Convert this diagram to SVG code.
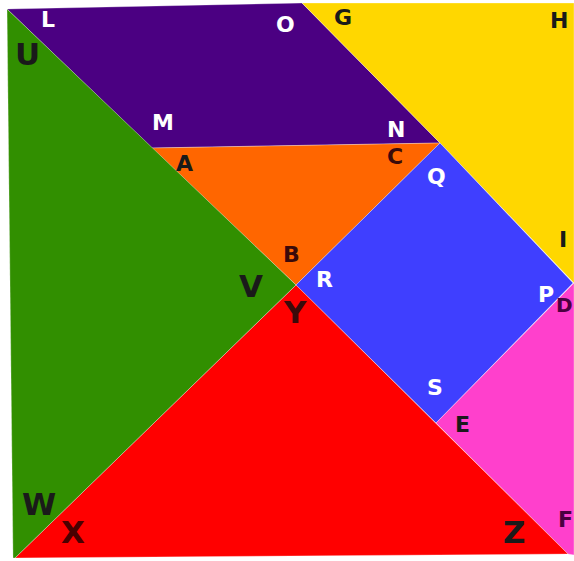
<svg xmlns="http://www.w3.org/2000/svg" width="574" height="561" viewBox="0 0 574 561">
<style>
.p{stroke:#ffffff;stroke-opacity:0.3;stroke-width:1;stroke-linejoin:round}
.s{font-family:"DejaVu Sans","Liberation Sans",sans-serif;font-weight:bold;font-size:22px}
.b{font-family:"DejaVu Sans","Liberation Sans",sans-serif;font-weight:bold;font-size:31px}
.w{fill:#ffffff}
.k{fill:#1a1a1a}
</style>
<rect width="574" height="561" fill="#ffffff"/>
<g id="purple"><polygon class="p" points="7,9 302,3 440,143 152,148" fill="#4b0082"/></g>
<g id="yellow"><polygon class="p" points="302,3 574,3 574,283 440,143" fill="#ffd700"/></g>
<g id="orange"><polygon class="p" points="152,148 440,143 296,285" fill="#ff6600"/></g>
<g id="blue"><polygon class="p" points="440,143 573,283 436,423 296,285" fill="#3f3fff"/></g>
<g id="pink"><polygon class="p" points="574,283 574,555 568,554 436,423" fill="#ff40cc"/></g>
<g id="red"><polygon class="p" points="296,285 568,554 15,558" fill="#ff0000"/></g>
<g id="green"><polygon class="p" points="7,9 296,285 15,558 13,558" fill="#318f00"/></g>
<g id="labels">
<text class="s w" x="41" y="27">L</text>
<text class="b k" x="15" y="65">U</text>
<text class="s w" x="152" y="130">M</text>
<text class="s w" x="276" y="32">O</text>
<text class="s k" x="334" y="25">G</text>
<text class="s k" x="550" y="28">H</text>
<text class="s w" x="387" y="137">N</text>
<text class="s" fill="#3a0a0a" x="387" y="164">C</text>
<text class="s k" x="176" y="171">A</text>
<text class="s w" x="427" y="184">Q</text>
<text class="s" fill="#3a0a0a" x="283" y="262">B</text>
<text class="b k" x="239" y="297">V</text>
<text class="s w" x="316" y="287">R</text>
<text class="b" fill="#3a0a0a" x="284" y="323">Y</text>
<text class="s k" x="559" y="247">I</text>
<text class="s w" x="538" y="302">P</text>
<text class="s" fill="#4b0040" x="556" y="312" style="font-size:20px">D</text>
<text class="s w" x="427" y="395">S</text>
<text class="s k" x="455" y="432">E</text>
<text class="b k" x="22" y="515">W</text>
<text class="b" fill="#4a0000" x="61" y="543">X</text>
<text class="b k" x="503" y="543">Z</text>
<text class="s" fill="#4b0040" x="558" y="527">F</text>
</g>
</svg>
